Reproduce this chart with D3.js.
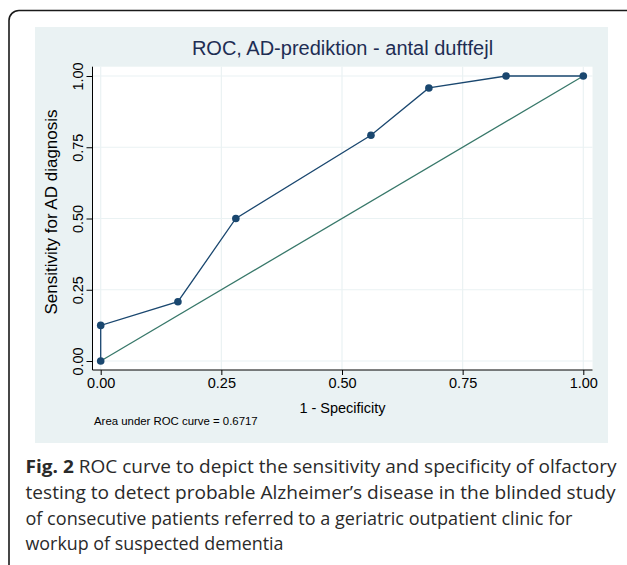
<!DOCTYPE html>
<html>
<head>
<meta charset="utf-8">
</head>
<body>
<style>

    body {
        margin: 0;
        background: #fff;
    }

    text {
        font-family: "Liberation Sans", Arial, sans-serif;
        fill: #000;
    }

    .grid line {
        stroke: #eaf2f3;
        stroke-width: 1.2px;
    }

    .axis path, .axis line {
        stroke: #000;
        stroke-width: 1px;
    }

    text.caption {
        font-family: "Open Sans", sans-serif;
        font-size: 18.5px;
        fill: #2a2a2a;
    }

</style>
<script src="https://cdn.jsdelivr.net/npm/d3@7"></script>
<script>

    // ROC points (1 - specificity, sensitivity)
    var fpr = [0, 0, 0.16, 0.28, 0.56, 0.68, 0.84, 1];
    var tpr = [0, 0.125, 0.208, 0.5, 0.792, 0.958, 1, 1];
    var refLine = [0, 1];
    var ticks = [0, 0.25, 0.5, 0.75, 1];

    var title = "ROC, AD-prediktion - antal duftfejl";
    var xTitle = "1 - Specificity";
    var yTitle = "Sensitivity for AD diagnosis";
    var note = "Area under ROC curve = 0.6717";
    var captionLines = [
        ["Fig. 2", " ROC curve to depict the sensitivity and specificity of olfactory"],
        ["", "testing to detect probable Alzheimer\u2019s disease in the blinded study"],
        ["", "of consecutive patients referred to a geriatric outpatient clinic for"],
        ["", "workup of suspected dementia"]
    ];
    var captionWidths = [591, 590, 547, 258];

    var width = 627;
    var height = 565;

    var svg = d3.select("body").append("svg")
        .attr("width", width)
        .attr("height", height);

    // outer frame of the figure box
    svg.append("rect")
        .attr("x", 9)
        .attr("y", 10.5)
        .attr("width", 640)
        .attr("height", 600)
        .attr("rx", 10)
        .style("fill", "none")
        .style("stroke", "#1a1a1a")
        .style("stroke-width", 1.6);

    // graph region
    svg.append("rect")
        .attr("x", 35)
        .attr("y", 27)
        .attr("width", 573)
        .attr("height", 416)
        .style("fill", "#eaf2f3");

    var plot = {left: 92.5, right: 592.5, top: 66.7, bottom: 370};

    svg.append("rect")
        .attr("x", plot.left)
        .attr("y", plot.top)
        .attr("width", plot.right - plot.left)
        .attr("height", plot.bottom - plot.top)
        .style("fill", "#fff");

    var x = d3.scaleLinear().domain([0, 1]).range([100.7, 583.3]);
    var y = d3.scaleLinear().domain([0, 1]).range([361, 76]);

    // grid
    var grid = svg.append("g").attr("class", "grid");
    grid.selectAll("line.v").data(ticks).enter().append("line")
        .attr("class", "v")
        .attr("x1", function (d) { return x(d); })
        .attr("x2", function (d) { return x(d); })
        .attr("y1", plot.top)
        .attr("y2", plot.bottom);
    grid.selectAll("line.h").data(ticks).enter().append("line")
        .attr("class", "h")
        .attr("x1", plot.left)
        .attr("x2", plot.right)
        .attr("y1", function (d) { return y(d); })
        .attr("y2", function (d) { return y(d); });

    // axes
    var xAxis = d3.axisBottom(x).tickValues(ticks).tickFormat(d3.format(".2f"))
        .tickSize(5).tickPadding(3);
    var gx = svg.append("g").attr("class", "axis")
        .attr("transform", "translate(0," + plot.bottom + ")")
        .call(xAxis);
    gx.select(".domain").attr("d", "M" + plot.left + ",0H" + plot.right);
    gx.selectAll("text").style("font-size", "14.5px")
        .style("font-family", "'Liberation Sans', Arial, sans-serif");

    var yAxis = d3.axisLeft(y).tickValues(ticks).tickFormat(d3.format(".2f"))
        .tickSize(6).tickPadding(3);
    var gy = svg.append("g").attr("class", "axis")
        .attr("transform", "translate(" + plot.left + ",0)")
        .call(yAxis);
    gy.select(".domain").attr("d", "M0," + plot.top + "V" + plot.bottom);
    gy.selectAll(".tick text")
        .style("font-size", "14.5px")
        .style("font-family", "'Liberation Sans', Arial, sans-serif")
        .attr("x", null)
        .attr("dy", null)
        .attr("text-anchor", "middle")
        .attr("transform", "translate(-9.5,0) rotate(-90)");

    // reference diagonal
    var line = d3.line()
        .x(function (d) { return x(d[0]); })
        .y(function (d) { return y(d[1]); });

    svg.append("path")
        .attr("d", line(refLine.map(function (v) { return [v, v]; })))
        .style("fill", "none")
        .style("stroke", "#38786a")
        .style("stroke-width", 1.3);

    var roc = fpr.map(function (v, i) { return [v, tpr[i]]; });

    svg.append("path")
        .attr("d", line(roc))
        .style("fill", "none")
        .style("stroke", "#1a476f")
        .style("stroke-width", 1.3);

    svg.selectAll("circle.pt").data(roc).enter().append("circle")
        .attr("class", "pt")
        .attr("cx", function (d) { return x(d[0]); })
        .attr("cy", function (d) { return y(d[1]); })
        .attr("r", 3.8)
        .style("fill", "#1a476f");

    // titles
    svg.append("text")
        .attr("x", (plot.left + plot.right) / 2)
        .attr("y", 54.5)
        .attr("text-anchor", "middle")
        .style("font-size", "20px")
        .style("fill", "#1e2d53")
        .text(title);

    svg.append("text")
        .attr("x", (plot.left + plot.right) / 2)
        .attr("y", 413)
        .attr("text-anchor", "middle")
        .style("font-size", "14.5px")
        .text(xTitle);

    svg.append("text")
        .attr("transform", "translate(57,212) rotate(-90)")
        .attr("text-anchor", "middle")
        .style("font-size", "17px")
        .text(yTitle);

    svg.append("text")
        .attr("x", 94)
        .attr("y", 424.5)
        .style("font-size", "11.4px")
        .text(note);

    // caption below the figure
    var cap = svg.selectAll("text.caption").data(captionLines).enter().append("text")
        .attr("class", "caption")
        .attr("x", 25.5)
        .attr("y", function (d, i) { return 473 + i * 25.8; })
        .attr("textLength", function (d, i) { return captionWidths[i]; })
        .attr("lengthAdjust", "spacingAndGlyphs");
    cap.append("tspan")
        .style("font-weight", "bold")
        .text(function (d) { return d[0]; });
    cap.append("tspan")
        .text(function (d) { return d[1]; });

</script>
</body>
</html>
